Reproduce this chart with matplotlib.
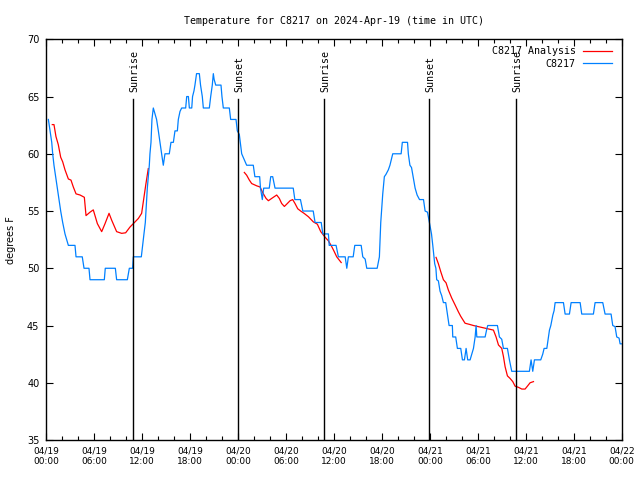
import matplotlib
matplotlib.use("Agg")
import matplotlib.pyplot as plt
import numpy as np

# ---- data (hours since 04/19 00:00 UTC) ----
obs_hours = [0.26, 0.47, 0.68, 0.80, 0.96, 1.17, 1.38, 1.59, 1.80, 2.05, 2.34, 2.76, 3.59, 3.72,
             4.50, 4.72, 5.34, 5.47, 7.26, 7.38, 8.64, 8.80, 10.14, 10.39, 10.80, 10.89, 11.89,
             12.05, 12.22, 12.39, 12.47, 12.64, 12.76, 12.89, 12.97, 13.10, 13.22, 13.39, 13.60,
             13.80, 14.02, 14.22, 14.43, 14.64, 14.85, 15.39, 15.60, 15.90, 16.10, 16.40, 16.52,
             16.73, 16.94, 17.44, 17.57, 17.78, 17.90, 18.20, 18.30, 18.48, 18.60, 18.80, 19.15,
             19.30, 19.52, 19.65, 20.40, 20.57, 20.77, 20.90, 21.00, 21.20, 21.86, 21.98, 22.15,
             22.90, 23.07, 23.74, 23.90, 24.15, 24.45, 25.07,
             25.16, 25.90, 26.10, 26.70, 26.80, 27.03, 27.20, 27.90, 28.08, 28.33, 28.62, 30.90,
             31.10, 31.80, 32.10, 33.40, 33.63, 34.40, 34.60, 35.30, 35.40, 36.26, 36.55, 37.40,
             37.60, 37.80, 38.40, 38.60, 39.40, 39.60, 39.90, 40.10, 41.40, 41.68, 41.85, 42.10,
             42.30, 42.50, 42.80, 43.00, 43.35, 44.40, 44.55, 45.20, 45.30, 45.50, 45.70, 45.90,
             46.15, 46.40, 46.70, 47.20, 47.40, 47.70, 47.94, 48.20,
             48.36, 48.60, 48.75, 48.85, 49.06, 49.27, 49.48, 49.69, 49.98, 50.19, 50.40, 50.81,
             50.86, 51.23, 51.44, 51.86, 52.07, 52.32, 52.53, 52.73, 53.03, 53.24, 53.45, 53.66,
             53.78, 53.87, 54.91, 55.12, 55.24, 56.45, 56.70, 56.99, 57.20, 57.70, 57.95, 58.24,
             60.45, 60.66, 60.87, 61.08, 61.87, 62.12, 62.29, 62.63, 62.83, 62.96, 63.13, 63.38,
             63.54, 63.67, 64.71, 64.92, 65.46, 65.67, 66.80, 67.00, 68.46, 68.67, 69.63, 69.92,
             70.67, 70.88, 71.17, 71.38, 71.67, 71.80, 71.95]
obs_temp = [63, 62, 61, 60, 59, 58, 57, 56, 55, 54, 53, 52, 52, 51,
            51, 50, 50, 49, 49, 50, 50, 49, 49, 50, 50, 51, 51,
            52, 53, 54, 55, 57, 58, 59, 60, 61, 63, 64, 63.5,
            63, 62, 61, 60, 59, 60, 60, 61, 61, 62, 62, 63,
            63.7, 64, 64, 65, 65, 64, 64, 65, 65.5, 66, 67, 67,
            66, 65, 64, 64, 65, 66, 67, 66.5, 66, 66, 65, 64,
            64, 63, 63, 62, 61.7, 60, 59,
            59, 59, 58, 58, 57, 56, 57, 57, 58, 58, 57, 57,
            56, 56, 55, 55, 54, 54, 53, 53, 52, 52, 51, 51,
            50, 51, 51, 52, 52, 51, 50.8, 50, 50, 51, 54, 56.5,
            58, 58.2, 58.6, 59, 60, 60, 61, 61, 60, 59, 58.8, 58,
            57, 56.4, 56, 56, 55, 54.9, 54, 53,
            52, 50.4, 50, 49, 48.9, 48, 47.6, 47, 47, 46, 45, 45,
            44, 44, 43, 43, 42, 42, 43, 42, 42, 42.5, 43, 44,
            45, 44, 44, 44.7, 45, 45, 44, 43.8, 43, 43, 42, 41,
            41, 42, 41, 42, 42, 42.5, 43, 43, 44, 44.6, 45, 45.9,
            46.3, 47, 47, 46, 46, 47, 47, 46, 46, 47, 47, 46,
            46, 45, 44.9, 44, 43.9, 43.4, 43.4]

ana_hours = [0.75, 0.96, 1.21, 1.50, 1.80, 2.05, 2.34, 2.76, 3.09, 3.38, 3.72, 4.22, 4.76, 4.97,
             5.47, 5.88, 6.39, 6.93, 7.35, 7.85, 8.18, 8.80, 9.43, 9.93, 10.47, 10.89, 11.52,
             11.93, 12.22, 12.47, 12.76, np.nan,
             24.78, 25.07, 25.41, 25.70, 26.33, 26.75, 27.08, 27.50, 27.79, 28.20, 28.83, 29.16,
             29.45, 29.79, 30.08, 30.50, 30.83, 31.12, 31.46, 31.83, 32.25, 32.80, 33.42, 33.92,
             34.34, 34.90, 35.30, 35.71, 36.00, 36.34, 36.90, np.nan,
             48.77, 49.06, 49.36, 49.69, 50.02, 50.31, 50.73, 51.15, 51.56, 51.86, 52.40, 52.95,
             53.45, 54.07, 54.70, 55.33, 55.95, 56.28, 56.58, 56.99, 57.20, 57.41, 57.70, 58.03,
             58.37, 58.66, 59.08, 59.50, 59.91, 60.20, 60.54, 60.96]
ana_temp = [62.55, 62.55, 61.5, 60.8, 59.7, 59.3, 58.6, 57.8, 57.7, 57.1, 56.5, 56.4, 56.2, 54.6,
            54.9, 55.1, 53.9, 53.2, 53.9, 54.8, 54.2, 53.2, 53.05, 53.1, 53.6, 53.9, 54.35,
            54.8, 56.2, 57.4, 58.7, np.nan,
            58.37, 58.13, 57.7, 57.4, 57.2, 57.1, 56.6, 56.1, 55.9, 56.1, 56.4, 56.1,
            55.66, 55.4, 55.6, 55.9, 56.0, 55.66, 55.2, 55.0, 54.8, 54.5, 54.05, 53.85,
            53.2, 52.7, 52.4, 51.9, 51.5, 51.0, 50.5, np.nan,
            50.95, 50.4, 49.7, 49.0, 48.73, 48.1, 47.4, 46.8, 46.2, 45.8, 45.2, 45.1,
            45.0, 44.9, 44.8, 44.7, 44.6, 44.0, 43.3, 43.0, 42.3, 41.4, 40.6, 40.38,
            40.1, 39.7, 39.6, 39.45, 39.45, 39.7, 40.0, 40.1]

sun_hours = [10.89, 24.03, 34.80, 47.94, 58.75]
sun_labels = ["Sunrise", "Sunset", "Sunrise", "Sunset", "Sunrise"]

tick_hours = list(range(0, 73, 6))
tick_labels = ["04/19\n00:00", "04/19\n06:00", "04/19\n12:00", "04/19\n18:00",
               "04/20\n00:00", "04/20\n06:00", "04/20\n12:00", "04/20\n18:00",
               "04/21\n00:00", "04/21\n06:00", "04/21\n12:00", "04/21\n18:00",
               "04/22\n00:00"]
y_ticks = [35, 40, 45, 50, 55, 60, 65, 70]

MONO = "DejaVu Sans Mono"
fig = plt.figure(figsize=(6.4, 4.8), dpi=100)
ax = fig.add_axes([46.3 / 640, 1 - 440 / 480, (621.7 - 46.3) / 640, (440 - 39.3) / 480])

ax.plot(ana_hours, ana_temp, color="#ff0000", lw=0.9, label="C8217 Analysis")
ax.plot(obs_hours, obs_temp, color="#0080ff", lw=0.9, label="C8217")

for h, lab in zip(sun_hours, sun_labels):
    ax.plot([h, h], [35, 64.8], color="black", lw=1.0)
    ax.text(h + 0.15, 65.4, lab, rotation=90, ha="center", va="bottom",
            family=MONO, fontsize=7.2)

ax.set_xlim(0, 72)
ax.set_ylim(35, 70)
ax.set_xticks(tick_hours)
ax.set_xticklabels(tick_labels, fontsize=6.5)
ax.set_xticks(list(range(0, 73, 2)), minor=True)
ax.set_yticks(y_ticks)
ax.set_yticklabels([str(v) for v in y_ticks], fontsize=7)
ax.tick_params(which="both", direction="in", top=True, right=True, width=0.8)
ax.tick_params(which="major", length=5, pad=5)
ax.tick_params(which="minor", length=3)
for s in ax.spines.values():
    s.set_linewidth(1.0)

ax.set_ylabel("degrees F", fontsize=7, labelpad=8)
ax.set_title("Temperature for C8217 on 2024-Apr-19 (time in UTC)", family=MONO,
             fontsize=7.2, pad=11)

leg = ax.legend(loc="upper right", frameon=False, markerfirst=False,
                prop={"family": MONO, "size": 7.2}, handlelength=2.9,
                handletextpad=0.7, labelspacing=0.25, borderaxespad=0.3,
                bbox_to_anchor=(0.995, 1.0))

fig.savefig("out.png", dpi=100)
